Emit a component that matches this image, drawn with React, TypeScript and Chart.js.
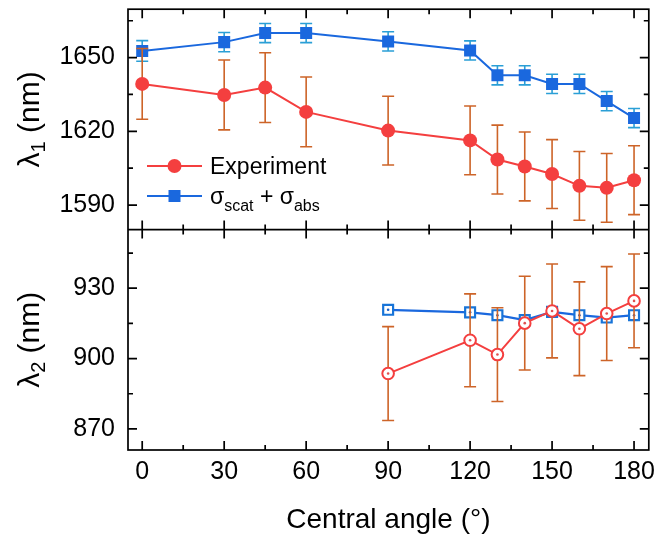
import React, { useEffect, useRef } from 'react';
import { Chart, registerables } from 'chart.js';

Chart.register(...registerables);

// Central angle (degrees) for the λ1 panel and the λ2 panel
const angles1 = [0, 30, 45, 60, 90, 120, 130, 140, 150, 160, 170, 180];
const angles2 = [90, 120, 130, 140, 150, 160, 170, 180];

// λ1 resonance (nm)
const lambda1Experiment = [1639.3, 1634.8, 1637.8, 1627.9, 1620.3, 1616.3, 1608.5, 1605.7, 1602.6, 1597.8, 1597.0, 1600.1];
const lambda1ExperimentErr = [14.4, 14.2, 14.2, 14.2, 14.0, 14.0, 14.0, 14.0, 14.0, 14.0, 14.0, 14.0];
const lambda1Simulation = [1652.7, 1656.3, 1660.0, 1660.0, 1656.6, 1652.9, 1642.8, 1642.8, 1639.3, 1639.3, 1632.3, 1625.4];
const lambda1SimulationErr = [4.2, 3.9, 3.9, 3.9, 3.9, 3.9, 3.9, 3.9, 3.9, 3.9, 3.9, 3.9];

// λ2 resonance (nm)
const lambda2Experiment = [893.6, 907.8, 901.7, 915.1, 920.3, 912.7, 919.2, 924.6];
const lambda2ExperimentErr = [20, 19.8, 20, 20, 20, 20, 20, 20];
const lambda2Simulation = [920.8, 919.7, 918.5, 916.4, 919.9, 918.5, 917.5, 918.5];

// Tick values
const xMajorTicks = [0, 30, 60, 90, 120, 150, 180];
const xMinorTicks = [15, 45, 75, 105, 135, 165];
const y1MajorTicks = [1590, 1620, 1650];
const y1MinorTicks = [1605, 1635, 1665];
const y2MajorTicks = [870, 900, 930];
const y2MinorTicks = [885, 915, 945];

const legendLabels = ['Experiment', 'σ|scat| + σ|abs|'];

const RED = '#F43F3F';
const BLUE = '#1A68DE';
const BLUE_ERR = '#2A9FD6';
const ORANGE_ERR = '#CD6428';
const FONT = '"Liberation Sans", Arial, sans-serif';

const pts = (xs: number[], ys: number[]) => xs.map((x, i) => ({ x, y: ys[i] }));

// draws text with |sub| segments as subscripts, starting at (x, baseline)
function drawRich(ctx: CanvasRenderingContext2D, text: string, x: number, y: number, size: number, subSize: number, subDrop: number) {
  const parts = text.split('|');
  let cx = x;
  parts.forEach((p, i) => {
    const sub = i % 2 === 1;
    ctx.font = `${sub ? subSize : size}px ${FONT}`;
    ctx.fillText(p, cx, sub ? y + subDrop : y);
    cx += ctx.measureText(p).width;
  });
}

function richWidth(ctx: CanvasRenderingContext2D, text: string, size: number, subSize: number) {
  let w = 0;
  text.split('|').forEach((p, i) => {
    ctx.font = `${i % 2 === 1 ? subSize : size}px ${FONT}`;
    w += ctx.measureText(p).width;
  });
  return w;
}

// keep the plot frame where the layout padding puts it
const noPadding = (s: any) => {
  s.paddingTop = 0;
  s.paddingBottom = 0;
  s.paddingLeft = 0;
  s.paddingRight = 0;
};

const decorPlugin = {
  id: 'decor',
  beforeDatasetDraw(chart: any, args: any) {
    const ds = chart.data.datasets[args.index];
    if (!ds.errors) return;
    const ctx = chart.ctx;
    const scale = chart.scales[ds.yAxisID];
    ctx.save();
    ctx.strokeStyle = ds.errorColor;
    ctx.lineWidth = 1.6;
    args.meta.data.forEach((el: any, i: number) => {
      const v = ds.data[i].y;
      const e = ds.errors[i];
      const yHi = scale.getPixelForValue(v + e);
      const yLo = scale.getPixelForValue(v - e);
      ctx.beginPath();
      ctx.moveTo(el.x, yHi);
      ctx.lineTo(el.x, yLo);
      ctx.moveTo(el.x - 6, yHi);
      ctx.lineTo(el.x + 6, yHi);
      ctx.moveTo(el.x - 6, yLo);
      ctx.lineTo(el.x + 6, yLo);
      ctx.stroke();
    });
    ctx.restore();
  },
  afterDatasetDraw(chart: any, args: any) {
    const ds = chart.data.datasets[args.index];
    if (!ds.centerDot) return;
    const ctx = chart.ctx;
    ctx.save();
    ctx.fillStyle = ds.centerDot;
    args.meta.data.forEach((el: any) => {
      ctx.beginPath();
      ctx.arc(el.x, el.y, 1.3, 0, Math.PI * 2);
      ctx.fill();
    });
    ctx.restore();
  },
  afterDraw(chart: any) {
    const ctx = chart.ctx;
    const { left, right, top, bottom } = chart.chartArea;
    const xs = chart.scales.x;
    const y1 = chart.scales.y1;
    const y2 = chart.scales.y2;
    const mid = y1.bottom;
    ctx.save();
    ctx.strokeStyle = '#000';
    ctx.lineWidth = 1.7;
    ctx.strokeRect(left, top, right - left, bottom - top);
    ctx.beginPath();
    ctx.moveTo(left, mid);
    ctx.lineTo(right, mid);
    ctx.stroke();

    const MAJ = 9;
    const MIN = 5;
    ctx.beginPath();
    const xTick = (v: number, len: number) => {
      const px = xs.getPixelForValue(v);
      ctx.moveTo(px, top); ctx.lineTo(px, top + len);
      ctx.moveTo(px, mid - len); ctx.lineTo(px, mid + len);
      ctx.moveTo(px, bottom); ctx.lineTo(px, bottom - len);
    };
    xMajorTicks.forEach((v) => xTick(v, MAJ));
    xMinorTicks.forEach((v) => xTick(v, MIN));
    const yTick = (scale: any, v: number, len: number) => {
      const py = scale.getPixelForValue(v);
      ctx.moveTo(left, py); ctx.lineTo(left + len, py);
      ctx.moveTo(right, py); ctx.lineTo(right - len, py);
    };
    y1MajorTicks.forEach((v) => yTick(y1, v, MAJ));
    y1MinorTicks.forEach((v) => yTick(y1, v, MIN));
    y2MajorTicks.forEach((v) => yTick(y2, v, MAJ));
    y2MinorTicks.forEach((v) => yTick(y2, v, MIN));
    ctx.stroke();

    // rotated axis titles with subscripts
    ctx.fillStyle = '#000';
    ctx.textBaseline = 'alphabetic';
    ctx.textAlign = 'left';
    const yTitle = (text: string, cy: number) => {
      ctx.save();
      ctx.translate(39, cy);
      ctx.rotate(-Math.PI / 2);
      const w = richWidth(ctx, text, 30, 20);
      drawRich(ctx, text, -w / 2, 0, 30, 20, 6);
      ctx.restore();
    };
    yTitle('λ|1| (nm)', (top + mid) / 2);
    yTitle('λ|2| (nm)', (mid + bottom) / 2);

    // legend
    const rows = [
      { y: 166, color: RED, shape: 'circle', label: legendLabels[0] },
      { y: 196, color: BLUE, shape: 'rect', label: legendLabels[1] },
    ];
    rows.forEach((r) => {
      ctx.strokeStyle = r.color;
      ctx.fillStyle = r.color;
      ctx.lineWidth = 2;
      ctx.beginPath();
      ctx.moveTo(147, r.y);
      ctx.lineTo(202, r.y);
      ctx.stroke();
      ctx.beginPath();
      if (r.shape === 'circle') {
        ctx.arc(174.5, r.y, 7, 0, Math.PI * 2);
      } else {
        ctx.rect(168.5, r.y - 6, 12, 12);
      }
      ctx.fill();
      ctx.fillStyle = '#000';
      drawRich(ctx, r.label, 210, r.y + 8, 23, 16, 7);
    });
    ctx.restore();
  },
};

export default function App() {
  const canvasRef = useRef<HTMLCanvasElement | null>(null);

  useEffect(() => {
    if (!canvasRef.current) return;
    const tickFont = { family: FONT, size: 25 };
    const plain = (v: any) => String(v);
    const chart = new Chart(canvasRef.current, {
      type: 'line',
      data: {
        datasets: [
          {
            label: 'λ1 simulation',
            data: pts(angles1, lambda1Simulation),
            yAxisID: 'y1',
            borderColor: BLUE,
            backgroundColor: BLUE,
            borderWidth: 2,
            pointStyle: 'rect',
            pointRadius: 8.5,
            pointBorderWidth: 0,
            errors: lambda1SimulationErr,
            errorColor: BLUE_ERR,
            order: 4,
          } as any,
          {
            label: 'λ1 experiment',
            data: pts(angles1, lambda1Experiment),
            yAxisID: 'y1',
            borderColor: RED,
            backgroundColor: RED,
            borderWidth: 2,
            pointStyle: 'circle',
            pointRadius: 7,
            pointBorderWidth: 0,
            errors: lambda1ExperimentErr,
            errorColor: ORANGE_ERR,
            order: 3,
          } as any,
          {
            label: 'λ2 simulation',
            data: pts(angles2, lambda2Simulation),
            yAxisID: 'y2',
            borderColor: BLUE,
            backgroundColor: '#fff',
            borderWidth: 2.2,
            pointStyle: 'rect',
            pointRadius: 7,
            pointBorderColor: '#1874D8',
            pointBorderWidth: 2.2,
            centerDot: '#1A5FC8',
            order: 2,
          } as any,
          {
            label: 'λ2 experiment',
            data: pts(angles2, lambda2Experiment),
            yAxisID: 'y2',
            borderColor: RED,
            backgroundColor: '#fff',
            borderWidth: 2,
            pointStyle: 'circle',
            pointRadius: 5.8,
            pointBorderColor: RED,
            pointBorderWidth: 2,
            errors: lambda2ExperimentErr,
            errorColor: ORANGE_ERR,
            centerDot: '#E05050',
            order: 1,
          } as any,
        ],
      },
      options: {
        animation: false,
        responsive: false,
        devicePixelRatio: 1,
        layout: { padding: { left: 0, right: 8, top: 5, bottom: 0 } },
        plugins: { legend: { display: false }, tooltip: { enabled: false } },
        scales: {
          x: {
            type: 'linear',
            position: 'bottom',
            min: -5.2,
            max: 185.4,
            grid: { display: false, drawTicks: false },
            border: { display: false },
            afterBuildTicks: (s: any) => { s.ticks = xMajorTicks.map((value) => ({ value })); },
            afterFit: (s: any) => { s.height = 91; noPadding(s); },
            ticks: { font: tickFont, color: '#000', padding: 7, maxRotation: 0, callback: plain },
            title: {
              display: true,
              text: 'Central angle (°)',
              font: { family: FONT, size: 28 },
              color: '#000',
              padding: { top: 4, bottom: 4 },
            },
          },
          y2: {
            type: 'linear',
            position: 'left',
            stack: 'panels',
            stackWeight: 1,
            min: 861,
            max: 955,
            grid: { display: false, drawTicks: false },
            border: { display: false },
            afterBuildTicks: (s: any) => { s.ticks = y2MajorTicks.map((value) => ({ value })); },
            afterFit: (s: any) => { s.width = 128; noPadding(s); },
            ticks: { font: tickFont, color: '#000', padding: 13, callback: plain },
          },
          y1: {
            type: 'linear',
            position: 'left',
            stack: 'panels',
            stackWeight: 1,
            min: 1580,
            max: 1669.7,
            grid: { display: false, drawTicks: false },
            border: { display: false },
            afterBuildTicks: (s: any) => { s.ticks = y1MajorTicks.map((value) => ({ value })); },
            afterFit: (s: any) => { s.width = 128; noPadding(s); },
            ticks: { font: tickFont, color: '#000', padding: 13, callback: plain },
          },
        },
      } as any,
      plugins: [decorPlugin],
    });
    return () => chart.destroy();
  }, []);

  return (
    <div style={{ position: 'absolute', left: 0, top: 0, width: 658, height: 541, background: '#fff' }}>
      <canvas ref={canvasRef} width={658} height={541} style={{ width: 658, height: 541, display: 'block' }} />
    </div>
  );
}
